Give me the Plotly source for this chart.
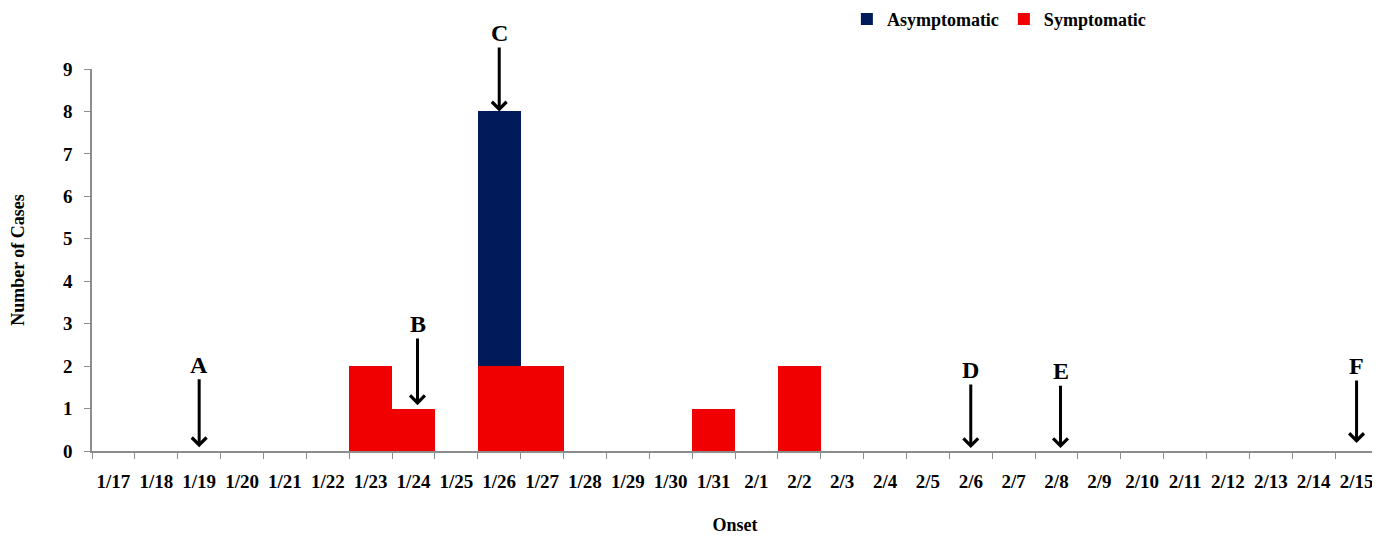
import plotly.graph_objects as go

dates = ['1/17', '1/18', '1/19', '1/20', '1/21', '1/22', '1/23', '1/24', '1/25', '1/26',
         '1/27', '1/28', '1/29', '1/30', '1/31', '2/1', '2/2', '2/3', '2/4', '2/5',
         '2/6', '2/7', '2/8', '2/9', '2/10', '2/11', '2/12', '2/13', '2/14', '2/15']
symptomatic = [0, 0, 0, 0, 0, 0, 2, 1, 0, 2,
               2, 0, 0, 0, 1, 0, 2, 0, 0, 0,
               0, 0, 0, 0, 0, 0, 0, 0, 0, 0]
asymptomatic = [0, 0, 0, 0, 0, 0, 0, 0, 0, 6,
                0, 0, 0, 0, 0, 0, 0, 0, 0, 0,
                0, 0, 0, 0, 0, 0, 0, 0, 0, 0]

event_labels = ['A', 'B', 'C', 'D', 'E', 'F']
event_dates = ['1/19', '1/24', '1/26', '2/6', '2/8', '2/15']
event_tip = [0.09, 1.08, 8.0, 0.07, 0.07, 0.19]
event_tail = [2.03, 2.99, 9.85, 1.91, 1.88, 2.0]
event_shift = [0, 4, 0, 0, 4, 0]

FONT = "Liberation Serif"
AX_COLOR = "#8c8c8c"

fig = go.Figure()
fig.add_trace(go.Bar(x=dates, y=symptomatic, name="Symptomatic",
                     marker=dict(color="#f00000", line=dict(width=0))))
fig.add_trace(go.Bar(x=dates, y=asymptomatic, name="Asymptomatic",
                     marker=dict(color="#001a5a", line=dict(width=0))))

for lab, d, tip, tail, sh in zip(event_labels, event_dates, event_tip, event_tail, event_shift):
    fig.add_annotation(x=d, y=tip, xref="x", yref="y",
                       axref="pixel", ax=0, ayref="y", ay=tail,
                       text=lab, showarrow=True, arrowhead=4, arrowsize=0.95,
                       arrowwidth=3, arrowcolor="black", xshift=sh,
                       font=dict(family=FONT, size=24, color="black", weight="bold"))

fig.update_layout(
    barmode="stack",
    bargap=0,
    width=1372, height=528,
    margin=dict(l=84, r=2, t=61, b=85, autoexpand=False),
    paper_bgcolor="white", plot_bgcolor="white",
    font=dict(family=FONT, size=19, color="black", weight="bold"),
    showlegend=True,
    legend=dict(orientation="h", traceorder="reversed", x=0.587, xanchor="left",
                y=1.13, yanchor="middle", font=dict(family=FONT, size=18, weight="bold"),
                itemwidth=30, bgcolor="rgba(0,0,0,0)"),
    xaxis=dict(type="category", tickson="boundaries", ticks="outside", ticklen=6,
               tickcolor=AX_COLOR, showline=True, linecolor=AX_COLOR, linewidth=1.5,
               showgrid=False, ticklabelstandoff=12, automargin=False, tickangle=0,
               title=dict(text="Onset", standoff=28, font=dict(size=18))),
    yaxis=dict(range=[0, 9], dtick=1, ticks="outside", ticklen=6, tickcolor=AX_COLOR,
               showline=True, linecolor=AX_COLOR, linewidth=1.5, showgrid=False,
               zeroline=False, ticklabelstandoff=8, automargin=False,
               title=dict(text="Number of Cases", standoff=34, font=dict(size=18))),
)

fig.write_html("out.html")
